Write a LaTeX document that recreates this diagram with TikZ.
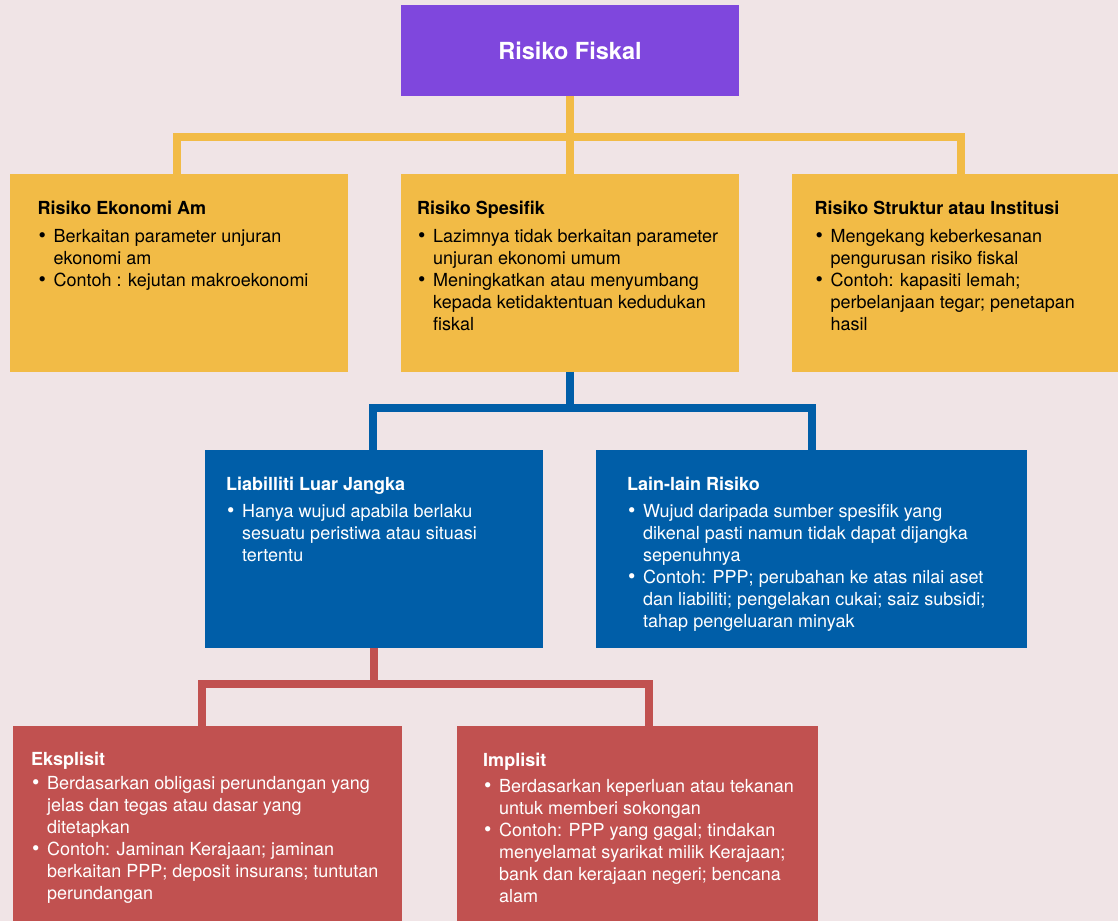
\documentclass[tikz,border=0pt]{standalone}
\usepackage{fontspec}
\setmainfont{TeX Gyre Heros}
\definecolor{bgpink}{HTML}{F0E4E6}
\definecolor{fiskalpurple}{HTML}{7F47DD}
\definecolor{riskyellow}{HTML}{F2BB46}
\definecolor{riskblue}{HTML}{005EA8}
\definecolor{riskred}{HTML}{C15150}
\newcommand{\bitem}{\makebox[16pt][l]{\hspace{1pt}{\fontsize{21pt}{22pt}\selectfont\textbullet}}}
\newcommand{\bcont}{\hspace*{16pt}}

\begin{document}
\begin{tikzpicture}
[every node/.style={inner sep=0pt},
 box/.style={rectangle, minimum width=338pt, minimum height=197.7pt},
 txt/.style={anchor=base west, align=left, font=\fontsize{18pt}{22pt}\selectfont},
 link/.style={line width=8pt}]
\fill [bgpink] (0pt, 0pt) rectangle (1118pt, -921pt);
\useasboundingbox (0pt, 0pt) rectangle (1118pt, -921pt);
\node (fiskal) [box, minimum height=91pt, fill=fiskalpurple, text=white, font=\fontsize{23.5pt}{28pt}\selectfont\bfseries] at (570pt, -50.5pt) {Risiko Fiskal};
\node (ekonomi) [box, fill=riskyellow] at (179pt, -272.85pt) {};
\node (spesifik) [box, fill=riskyellow] at (570pt, -272.85pt) {};
\node (struktur) [box, minimum width=326pt, fill=riskyellow] at (955pt, -272.85pt) {};
\node (luar) [box, fill=riskblue] at (374pt, -548.85pt) {};
\node (lain) [box, minimum width=431pt, fill=riskblue] at (811.5pt, -548.85pt) {};
\node (eksplisit) [box, minimum width=389pt, minimum height=195pt, fill=riskred] at (207.5pt, -823.5pt) {};
\node (implisit) [box, minimum width=361pt, minimum height=195pt, fill=riskred] at (637.5pt, -823.5pt) {};
\node (ekonomi-txt) [txt] at (37.5pt, -286pt) {\textbf{Risiko Ekonomi Am}\\[6pt]
\bitem Berkaitan parameter unjuran\\
\bcont ekonomi am\\
\bitem Contoh : kejutan makroekonomi};
\node (spesifik-txt) [txt] at (417pt, -330pt) {\textbf{Risiko Spesifik}\\[6pt]
\bitem Lazimnya tidak berkaitan parameter\\
\bcont unjuran ekonomi umum\\
\bitem Meningkatkan atau menyumbang\\
\bcont kepada ketidaktentuan kedudukan\\
\bcont fiskal};
\node (struktur-txt) [txt] at (814.5pt, -330pt) {\textbf{Risiko Struktur atau Institusi}\\[6pt]
\bitem Mengekang keberkesanan\\
\bcont pengurusan risiko fiskal\\
\bitem Contoh: kapasiti lemah;\\
\bcont perbelanjaan tegar; penetapan\\
\bcont hasil};
\node (luar-txt) [txt, text=white] at (226pt, -561pt) {\textbf{Liabilliti Luar Jangka}\\[4.5pt]
\bitem Hanya wujud apabila berlaku\\
\bcont sesuatu peristiwa atau situasi\\
\bcont tertentu};
\node (lain-txt) [txt, text=white] at (627pt, -627pt) {\textbf{Lain-lain Risiko}\\[4.5pt]
\bitem Wujud daripada sumber spesifik yang\\
\bcont dikenal pasti namun tidak dapat dijangka\\
\bcont sepenuhnya\\
\bitem Contoh: PPP; perubahan ke atas nilai aset\\
\bcont dan liabiliti; pengelakan cukai; saiz subsidi;\\
\bcont tahap pengeluaran minyak};
\node (eksplisit-txt) [txt, text=white] at (31pt, -899.5pt) {\textbf{Eksplisit}\\[2pt]
\bitem Berdasarkan obligasi perundangan yang\\
\bcont jelas dan tegas atau dasar yang\\
\bcont ditetapkan\\
\bitem Contoh: Jaminan Kerajaan; jaminan\\
\bcont berkaitan PPP; deposit insurans; tuntutan\\
\bcont perundangan};
\node (implisit-txt) [txt, text=white] at (483pt, -902.7pt) {\textbf{Implisit}\\[4.7pt]
\bitem Berdasarkan keperluan atau tekanan\\
\bcont untuk memberi sokongan\\
\bitem Contoh: PPP yang gagal; tindakan\\
\bcont menyelamat syarikat milik Kerajaan;\\
\bcont bank dan kerajaan negeri; bencana\\
\bcont alam};
\draw [link, color=riskyellow] (fiskal.south) -- (spesifik.north);
\draw [link, color=riskyellow] (fiskal.south) -- ++(0pt, -40.7pt) -| ([xshift=-2pt]ekonomi.north);
\draw [link, color=riskyellow] (fiskal.south) -- ++(0pt, -40.7pt) -| ([xshift=6pt]struktur.north);
\draw [link, color=riskblue] (spesifik.south) -- ++(0pt, -36.3pt) -| ([xshift=-1pt]luar.north);
\draw [link, color=riskblue] (spesifik.south) -- ++(0pt, -36.3pt) -| (lain.north);
\draw [link, color=riskred] (luar.south) -- ++(0pt, -36.3pt) -| ([xshift=-5.5pt]eksplisit.north);
\draw [link, color=riskred] (luar.south) -- ++(0pt, -36.3pt) -| ([xshift=11.5pt]implisit.north);
\end{tikzpicture}
\end{document}
